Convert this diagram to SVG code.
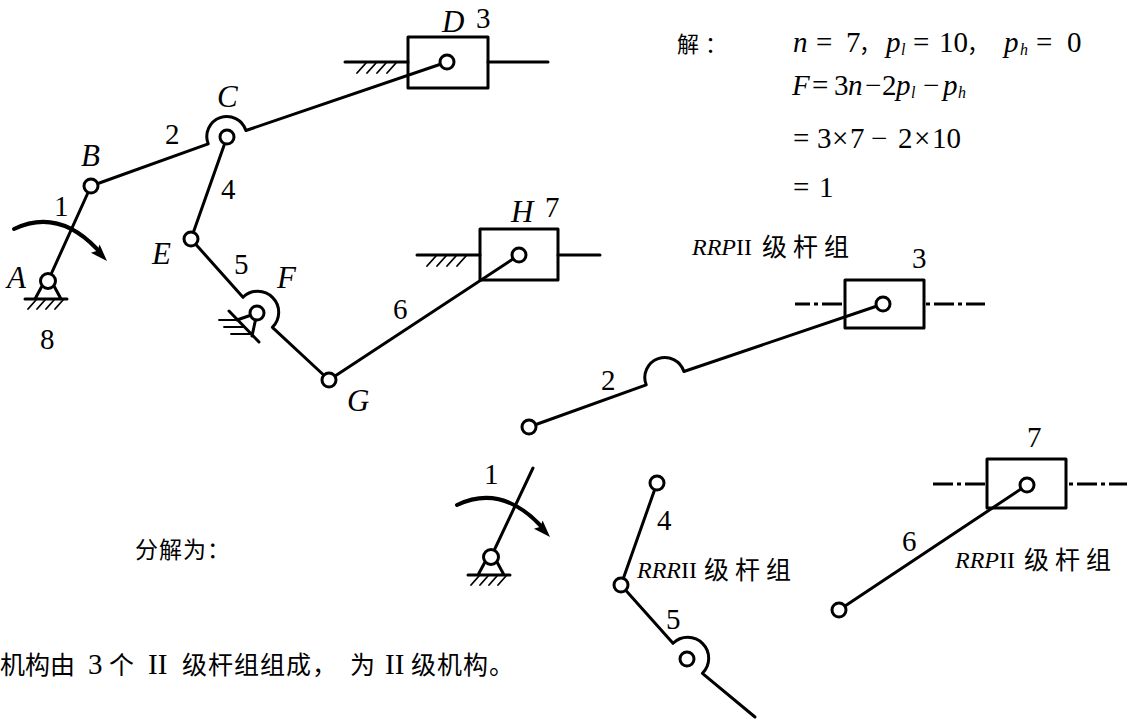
<svg xmlns="http://www.w3.org/2000/svg" width="1131" height="724" viewBox="0 0 1131 724">
<style>
.ln{stroke:#000;stroke-width:3;fill:none;stroke-linecap:round;stroke-linejoin:round}
.bx{stroke:#000;stroke-width:3;fill:none;stroke-linejoin:round}
.jt{fill:#fff;stroke:#000;stroke-width:3}
.ht{stroke:#000;stroke-width:1.8;fill:none;stroke-linecap:round}
.dd{stroke:#000;stroke-width:3;fill:none;stroke-dasharray:20 4 4 4}
.t{font-family:"Liberation Serif","Times New Roman",serif;font-size:29px;fill:#000}
.it{font-style:italic}
.lt{font-size:31px}
.f{font-family:"Liberation Serif","Times New Roman",serif;font-size:29px;fill:#000}
.sb{font-size:16px;font-style:italic}
.cn{font-family:"Noto Sans CJK SC",sans-serif;fill:#000}
.g{font-family:"Liberation Serif","Times New Roman",serif;font-size:24px;fill:#000}
</style>
<defs>
<g id="gndA">
<path class="ln" d="M-23,18 H19 M-6,5 L-13,18 M6,5 L13,18"/>
<path class="ht" d="M-12,19 L-20,28 M-3,19 L-11,28 M6,19 L-2,28 M15,19 L7,28"/>
</g>
<path id="arrowHead" d="M0,0 L-17,-6 L-14,0 L-17,6 Z" fill="#000"/>
</defs>

<g id="connectors">
<path id="link1" class="ln" d="M48,281 L91,186"/>
<path id="link2" class="ln" d="M91,186 L208.2,143.8 A20,20 0 1 1 245.9,130.5 L447,62"/>
<path id="link4" class="ln" d="M227,137 L191,239"/>
<path id="link5" class="ln" d="M191,239 L243,297.3 A21,21 0 0 1 272.4,327.3 L329,380"/>
<path id="link6" class="ln" d="M329,380 L519,255"/>
<path id="d-link1" class="ln" d="M491,557 L533,468"/>
<path id="d-link2" class="ln" d="M529,427 L646.2,384.8 A20,20 0 1 1 683.9,371.5 L883,304"/>
<path id="d-link4" class="ln" d="M657,483 L621,585"/>
<path id="d-link5" class="ln" d="M621,585 L673,643.3 A21,21 0 0 1 702.4,673.3 L755,717"/>
<path id="d-link6" class="ln" d="M839,610 L1027,485"/>
</g>

<g id="rot-arrow-main">
<path d="M14,229 Q58,208 97,249" stroke="#000" stroke-width="4" fill="none" stroke-linecap="round"/>
<use href="#arrowHead" transform="translate(107,261) rotate(46.4)"/>
</g>
<g id="rot-arrow-decomp">
<path d="M457,505 Q501,484 540,525" stroke="#000" stroke-width="4" fill="none" stroke-linecap="round"/>
<use href="#arrowHead" transform="translate(550,537) rotate(46.4)"/>
</g>

<g id="node-A">
<use href="#gndA" transform="translate(48,281)"/>
<circle class="jt" cx="48" cy="281" r="7.5"/>
<text class="t it lt" x="7" y="288">A</text>
<text class="t" x="40" y="349">8</text>
</g>
<g id="node-B">
<circle class="jt" cx="91" cy="186" r="7"/>
<text class="t it lt" x="81" y="166">B</text>
</g>
<g id="node-C">
<circle class="jt" cx="227" cy="137" r="7"/>
<text class="t it lt" x="217" y="107">C</text>
</g>
<g id="node-D">
<path class="ln" d="M345,62 H408 M488,62 H548"/>
<path class="ht" d="M357,73 L366,63 M367,73 L376,63 M377,73 L386,63 M387,73 L396,63"/>
<rect class="bx" x="408" y="37" width="80" height="51"/>
<circle class="jt" cx="447" cy="62" r="7"/>
<text class="t it lt" x="442" y="32">D</text>
<text class="t" x="476" y="28">3</text>
</g>
<g id="node-E">
<circle class="jt" cx="191" cy="239" r="7"/>
<text class="t it lt" x="152" y="264">E</text>
</g>
<g id="node-F">
<path class="ln" d="M229,311 L259,342 M257,313 L237,320 M257,313 L252,336"/>
<path class="ht" d="M219,320 H237 M224,327 H244 M231,334 H251"/>
<circle class="jt" cx="257" cy="313" r="7"/>
<text class="t it lt" x="277" y="288">F</text>
</g>
<g id="node-G">
<circle class="jt" cx="329" cy="380" r="7"/>
<text class="t it lt" x="347" y="411">G</text>
</g>
<g id="node-H">
<path class="ln" d="M417,255 H480 M558,255 H600"/>
<path class="ht" d="M427,266 L436,256 M437,266 L446,256 M447,266 L456,256 M457,266 L466,256"/>
<rect class="bx" x="480" y="229" width="78" height="51"/>
<circle class="jt" cx="519" cy="255" r="7"/>
<text class="t it lt" x="511" y="222">H</text>
<text class="t" x="545" y="217">7</text>
</g>
<g id="link-labels">
<text class="t" x="54" y="216">1</text>
<text class="t" x="165" y="144">2</text>
<text class="t" x="221" y="199">4</text>
<text class="t" x="234" y="274">5</text>
<text class="t" x="393" y="319">6</text>
</g>

<g id="solution">
<text class="cn" x="677" y="52" font-size="22" letter-spacing="6">解：</text>
<text class="f" y="52"><tspan class="it" x="793">n</tspan><tspan x="816">=</tspan><tspan x="846">7</tspan><tspan class="cn" x="859" font-size="22">，</tspan><tspan class="it" x="886">p</tspan><tspan class="sb" x="901" dy="3">l</tspan><tspan x="913" dy="-3">=</tspan><tspan x="939">10</tspan><tspan class="cn" x="967" font-size="22">，</tspan><tspan class="it" x="1004">p</tspan><tspan class="sb" x="1020" dy="3">h</tspan><tspan x="1036" dy="-3">=</tspan><tspan x="1067">0</tspan></text>
<text class="f" y="95"><tspan class="it" x="792">F</tspan><tspan x="812">=</tspan><tspan x="834">3</tspan><tspan class="it" x="848">n</tspan><tspan x="865">−</tspan><tspan x="882">2</tspan><tspan class="it" x="896">p</tspan><tspan class="sb" x="911" dy="3">l</tspan><tspan x="923" dy="-3">−</tspan><tspan class="it" x="943">p</tspan><tspan class="sb" x="958" dy="3">h</tspan></text>
<text class="f" y="148"><tspan x="793">=</tspan><tspan x="817">3</tspan><tspan x="832">×</tspan><tspan x="850">7</tspan><tspan x="871">−</tspan><tspan x="898">2</tspan><tspan x="914">×</tspan><tspan x="932">10</tspan></text>
<text class="f" y="197"><tspan x="793">=</tspan><tspan x="819">1</tspan></text>
</g>

<g id="group-RRP-23">
<text class="g" x="692" y="255"><tspan class="it">RRP</tspan><tspan>II</tspan></text>
<text class="cn" x="762" y="256" font-size="25" letter-spacing="6">级杆组</text>
<circle class="jt" cx="529" cy="427" r="7"/>
<text class="t" x="601" y="390">2</text>
<path class="dd" d="M795,304 H845" stroke-dashoffset="5"/>
<path class="dd" d="M926,304 H985" stroke-dashoffset="24"/>
<rect class="bx" x="845" y="280" width="79" height="48"/>
<circle class="jt" cx="883" cy="304" r="7"/>
<text class="t" x="912" y="268">3</text>
</g>

<g id="crank-1">
<use href="#gndA" transform="translate(491,557)"/>
<circle class="jt" cx="491" cy="557" r="7.5"/>
<text class="t" x="484" y="484">1</text>
</g>

<g id="group-RRR-45">
<circle class="jt" cx="657" cy="483" r="7"/>
<circle class="jt" cx="621" cy="585" r="7"/>
<circle class="jt" cx="687" cy="659" r="7"/>
<text class="t" x="657" y="530">4</text>
<text class="t" x="666" y="629">5</text>
<text class="g" x="637" y="578"><tspan class="it">RRR</tspan><tspan>II</tspan></text>
<text class="cn" x="704" y="579" font-size="25" letter-spacing="6">级杆组</text>
</g>

<g id="group-RRP-67">
<path class="dd" d="M933,484 H987"/>
<path class="dd" d="M1069,484 H1127" stroke-dashoffset="24"/>
<rect class="bx" x="987" y="459" width="79" height="49"/>
<circle class="jt" cx="1027" cy="485" r="7"/>
<circle class="jt" cx="839" cy="610" r="7"/>
<text class="t" x="1027" y="447">7</text>
<text class="t" x="902" y="551">6</text>
<text class="g" x="955" y="568"><tspan class="it">RRP</tspan><tspan>II</tspan></text>
<text class="cn" x="1024" y="569" font-size="25" letter-spacing="6">级杆组</text>
</g>

<g id="texts">
<text class="cn" x="135" y="558" font-size="23" letter-spacing="1">分解为：</text>
<text class="cn" y="674" font-size="25"><tspan x="0">机构由</tspan><tspan x="109">个</tspan><tspan x="182" letter-spacing="1">级杆组组成，</tspan><tspan x="350">为</tspan><tspan x="411" letter-spacing="1">级机构。</tspan></text>
<text class="t" y="674" font-size="25"><tspan x="88">3</tspan><tspan x="148">II</tspan><tspan x="385">II</tspan></text>
</g>
</svg>
